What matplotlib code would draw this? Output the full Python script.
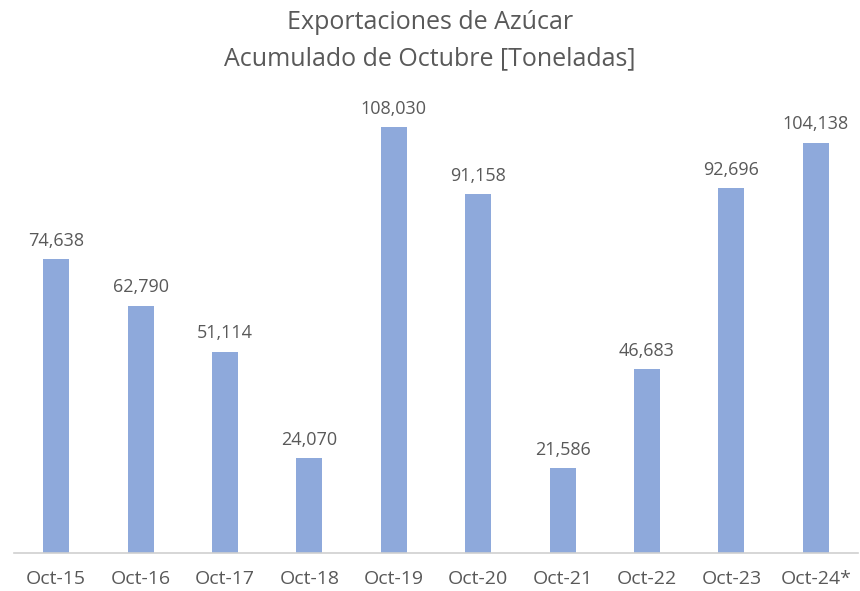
import matplotlib.pyplot as plt

categorias = ['Oct-15', 'Oct-16', 'Oct-17', 'Oct-18', 'Oct-19',
              'Oct-20', 'Oct-21', 'Oct-22', 'Oct-23', 'Oct-24*']
toneladas = [74638, 62790, 51114, 24070, 108030,
             91158, 21586, 46683, 92696, 104138]

plt.rcParams['font.family'] = ['Open Sans', 'DejaVu Sans']
gris = '#595959'

fig = plt.figure(figsize=(8.6, 5.91), dpi=100)
ax = fig.add_axes([14 / 860, 38 / 591, 844 / 860, 473 / 591])

x = range(len(categorias))
barras = ax.bar(x, toneladas, width=0.31, color='#8EA9DB')
for b, v in zip(barras, toneladas):
    ax.text(b.get_x() + b.get_width() / 2, v + 2300, f'{v:,}',
            ha='center', va='bottom', fontsize=13, color=gris)

ax.set_xlim(-0.5, len(categorias) - 0.5)
ax.set_ylim(0, 120000)
ax.set_xticks(list(x))
ax.set_xticklabels(categorias, fontsize=14, color=gris)
ax.tick_params(axis='x', length=0, pad=12)
ax.set_yticks([])
for s in ['top', 'right', 'left']:
    ax.spines[s].set_visible(False)
ax.spines['bottom'].set_color('#D0D0D0')
ax.spines['bottom'].set_linewidth(1.2)

fig.text(0.5, 0.962, 'Exportaciones de Azúcar', ha='center', va='center',
         fontsize=18, color=gris)
fig.text(0.5, 0.900, 'Acumulado de Octubre [Toneladas]', ha='center', va='center',
         fontsize=18, color=gris)

fig.savefig('out.png', dpi=100)
